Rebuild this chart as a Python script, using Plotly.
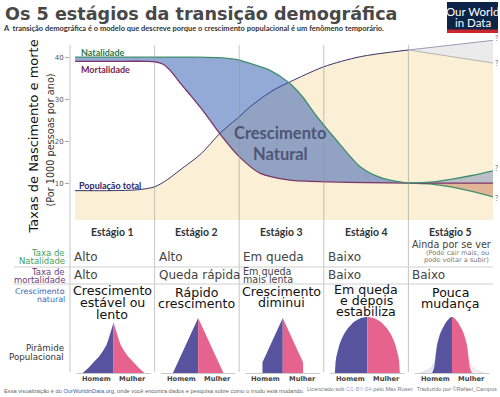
import plotly.graph_objects as go

W, H = 500, 397

# ---------------- data ----------------
stages = ["Estágio 1", "Estágio 2", "Estágio 3", "Estágio 4", "Estágio 5"]

birth_x = [0.06, 0.5, 1.0, 1.5, 1.8, 2.0, 2.13, 2.36, 2.6, 2.75, 2.92, 3.15, 3.43, 3.7, 4.0]
birth = [40, 40, 40, 40, 39.8, 39.3, 38.5, 36.9, 33.7, 30.5, 25.8, 20.2, 13.9, 11.1, 10.0]

death_x = [0.06, 0.5, 0.9, 1.0, 1.1, 1.18, 1.34, 1.42, 1.6, 1.77, 2.0, 2.25, 2.6, 3.07, 3.5, 4.0]
death = [39, 39, 39, 38.9, 38.3, 36.9, 32.9, 31.0, 26.5, 21.8, 16.3, 12.3, 10.7, 10.3, 10.1, 10.0]

pop_x = [0.06, 0.5, 0.8, 1.0, 1.15, 1.3, 1.55, 1.77, 2.0, 2.13, 2.4, 2.6, 3.0, 3.43, 4.0]
pop = [8.2, 8.2, 8.4, 9.1, 10.8, 13.1, 17.0, 21.8, 25.8, 28.2, 32.1, 34.1, 37.7, 40.1, 41.7]

s5_x = [4.0, 4.25, 4.5, 4.75, 5.0]
s5_birth_high = [10.0, 10.2, 10.9, 11.8, 12.9]
s5_birth_low = [10.0, 9.8, 9.1, 8.0, 6.7]
s5_death = [10.0, 10.0, 10.0, 10.0, 10.0]
s5_pop_x = [4.0, 5.0]
s5_pop_high = [41.7, 44.0]
s5_pop_low = [41.7, 38.6]

y_ticks = [10, 20, 30, 40]

birth_text = ["Alto", "Alto", "Em queda", "Baixo", "Ainda por se ver"]
birth_note = ["(Pode cair mais, ou", "pode voltar a subir)"]
death_text = [["Alto"], ["Queda rápida"], ["Em queda", "mais lenta"], ["Baixo"], ["Baixo"]]
growth_text = [["Crescimento", "estável ou", "lento"],
               ["Rápido", "crescimento"],
               ["Crescimento", "diminui"],
               ["Em queda", "e depois", "estabiliza"],
               ["Pouca", "mudança"]]

# population pyramids: half-width (relative share) at each age level
pyr_age = [0, 5, 10, 20, 30, 40, 50, 60, 70, 80, 85, 90, 95, 98, 100]
pyr_s1 = [31.5, 28, 25, 20, 14.5, 10.5, 7.2, 5.2, 3.3, 1.4, 0.4, 0, 0, 0, 0]
pyr_s2 = [25.5, 24.2, 22.9, 19.9, 17.6, 14.9, 12.3, 9.6, 7.0, 4.3, 3.0, 1.7, 0.4, 0, 0]
pyr_s3 = [20.3, 20.3, 20.3, 20.3, 17.6, 15.0, 12.3, 9.7, 7.0, 4.35, 3.0, 1.7, 0.4, 0, 0]
pyr_s4 = [32.5, 32.4, 32.3, 31.8, 31.0, 29.8, 28.1, 26.0, 23.2, 19.5, 17.1, 14.2, 10.1, 6.4, 0]
pyr_s5 = [20, 18.5, 17.8, 17, 16.4, 15.8, 15, 13.5, 11.8, 9.3, 7.8, 6, 3.8, 2.3, 0]
pyr_s5_ghost = [33, 25, 20.5, 17.5, 16.6, 15.8, 15, 13.5, 11.8, 9.3, 7.8, 6, 3.8, 2.3, 0]
pyramids = [pyr_s1, pyr_s2, pyr_s3, pyr_s4, pyr_s5]

# ---------------- styling ----------------
BEIGE = "#fbefd5"
GREEN = "#3f8f6e"
PURPLE = "#7d3468"
NAVY = "#34346e"
MALE = "#57539f"
FEMALE = "#e5638d"
X0, X1 = 70 / W, 493 / W       # plot x-domain (paper)
PYR_SCALE = 1 / 84.6           # share -> stage units


def px(x):
    return x / W


def py(y):
    return 1 - y / H


def sx(s):
    return X0 + s / 5 * (X1 - X0)


fig = go.Figure()

# beige area under total population
fig.add_trace(go.Scatter(x=pop_x + [s5_pop_x[-1]], y=pop + [s5_pop_low[-1]], mode="lines",
                         line=dict(width=0, shape="spline", smoothing=0.8),
                         fill="tozeroy", fillcolor=BEIGE, hoverinfo="skip"))
# stage 5 population uncertainty
fig.add_trace(go.Scatter(x=s5_pop_x, y=s5_pop_low, mode="lines",
                         line=dict(color="#b4b4b4", width=1), hoverinfo="skip"))
fig.add_trace(go.Scatter(x=s5_pop_x, y=s5_pop_high, mode="lines",
                         line=dict(color="#9c9cb4", width=1), fill="tonexty",
                         fillcolor="#ebebeb", hoverinfo="skip"))
# total population line
fig.add_trace(go.Scatter(x=pop_x, y=pop, mode="lines",
                         line=dict(color=NAVY, width=1, shape="spline", smoothing=0.8),
                         hoverinfo="skip"))
# death rate, birth rate + natural growth
fig.add_trace(go.Scatter(x=death_x, y=death, mode="lines",
                         line=dict(color=PURPLE, width=1.3, shape="spline", smoothing=0.8),
                         hoverinfo="skip"))
fig.add_trace(go.Scatter(x=birth_x, y=birth, mode="lines",
                         line=dict(color=GREEN, width=1.3, shape="spline", smoothing=0.8),
                         fill="tonexty", fillcolor="rgba(40,85,175,0.5)", hoverinfo="skip"))
# stage 5
fig.add_trace(go.Scatter(x=s5_x, y=s5_birth_low, mode="lines",
                         line=dict(color=GREEN, width=1.3, shape="spline", smoothing=0.8),
                         hoverinfo="skip"))
fig.add_trace(go.Scatter(x=s5_x, y=s5_death, mode="lines",
                         line=dict(color=PURPLE, width=1.3), fill="tonexty",
                         fillcolor="rgba(190,110,70,0.45)", hoverinfo="skip"))
fig.add_trace(go.Scatter(x=s5_x, y=s5_birth_high, mode="lines",
                         line=dict(color=GREEN, width=1.3, shape="spline", smoothing=0.8),
                         fill="tonexty", fillcolor="rgba(60,90,170,0.32)", hoverinfo="skip"))

# pyramids
for i, widths in enumerate(pyramids):
    c = i + 0.5 + 0.015
    if i == 4:
        gx = [c - w * PYR_SCALE for w in pyr_s5_ghost] + [c, c]
        fig.add_trace(go.Scatter(x=gx, y=pyr_age + [100, 0], xaxis="x2", yaxis="y2", mode="lines",
                                 line=dict(width=0.6, color="rgba(87,83,159,0.3)"), fill="toself",
                                 fillcolor="rgba(87,83,159,0.12)", hoverinfo="skip"))
        gx = [c + w * PYR_SCALE for w in pyr_s5_ghost] + [c, c]
        fig.add_trace(go.Scatter(x=gx, y=pyr_age + [100, 0], xaxis="x2", yaxis="y2", mode="lines",
                                 line=dict(width=0.6, color="rgba(229,99,141,0.3)"), fill="toself",
                                 fillcolor="rgba(229,99,141,0.12)", hoverinfo="skip"))
    mx = [c - w * PYR_SCALE for w in widths] + [c, c]
    fx = [c + w * PYR_SCALE for w in widths] + [c, c]
    fig.add_trace(go.Scatter(x=mx, y=pyr_age + [100, 0], xaxis="x2", yaxis="y2", mode="lines",
                             line=dict(width=0), fill="toself", fillcolor=MALE, hoverinfo="skip"))
    fig.add_trace(go.Scatter(x=fx, y=pyr_age + [100, 0], xaxis="x2", yaxis="y2", mode="lines",
                             line=dict(width=0), fill="toself", fillcolor=FEMALE, hoverinfo="skip"))

shapes = []
# stage separators
for b in range(5):
    shapes.append(dict(type="line", xref="paper", yref="paper", x0=sx(b), x1=sx(b),
                       y0=py(45), y1=py(372), line=dict(color="rgba(150,150,150,0.55)", width=1),
                       layer="above"))
# table row separators
for yy in (267, 284):
    shapes.append(dict(type="line", xref="paper", yref="paper", x0=px(14), x1=px(493),
                       y0=py(yy), y1=py(yy), line=dict(color="#cfcfcf", width=1)))
# pyramid baselines
for i in range(5):
    c = i + 0.5 + 0.015
    shapes.append(dict(type="line", xref="paper", yref="paper", x0=sx(c - 0.44), x1=sx(c + 0.44),
                       y0=py(373.5), y1=py(373.5), line=dict(color="#c8c8c8", width=1)))
# OWID logo
shapes.append(dict(type="rect", xref="paper", yref="paper", x0=px(447), x1=px(498),
                   y0=py(33), y1=py(2), fillcolor="#0b2447", line=dict(width=0)))
shapes.append(dict(type="rect", xref="paper", yref="paper", x0=px(447), x1=px(498),
                   y0=py(33), y1=py(29.5), fillcolor="#c8262d", line=dict(width=0)))

ann = []


def A(text, x, y, size, color, family="DejaVu Sans", xanchor="center", xref="paper",
      yanchor="middle", textangle=0, yshift=0, xshift=0):
    ann.append(dict(text=text, x=x, y=y, xref=xref, yref="paper", showarrow=False,
                    xanchor=xanchor, yanchor=yanchor, textangle=textangle,
                    yshift=yshift, xshift=xshift, borderpad=0,
                    font=dict(family=family, size=size, color=color)))


# titles
A("<b>Os 5 estágios da transição demográfica</b>", px(4), py(14), 17.6, "#484848",
  xanchor="left")
A("<b>A  transição demográfica é o modelo que descreve porque o crescimento populacional é um fenômeno temporário.</b>",
  px(2), py(29), 7.5, "#333333", family="Lato", xanchor="left")
A("Our World", px(472.5), py(11.5), 11.5, "white", family="Lato")
A("in Data", px(472.5), py(22.5), 11.5, "white", family="Lato")

# axis titles
A("Taxas de Nascimento e morte", px(33.5), py(137), 13, "#111111", textangle=-90)
A("(Por 1000 pessoas por ano)", px(50.5), py(140), 9.7, "#333333", textangle=-90)

# curve labels
A("<b>Natalidade</b>", px(80), py(52.3), 9, "#2b7a50", family="Lato", xanchor="left")
A("<b>Mortalidade</b>", px(80), py(69.3), 9, "#7a1f52", family="Lato", xanchor="left")
A("<b>População total</b>", px(78), py(185.7), 9, "#2a2a6a", family="Lato", xanchor="left")
A("<b>Crescimento</b>", px(280), py(132.5), 16.5, "#4d5674", family="Lato")
A("<b>Natural</b>", px(280), py(153.5), 16.5, "#4d5674", family="Lato")

# question marks at the open ends of stage 5
for val, ys in ((s5_pop_high[-1], 2), (s5_pop_low[-1], 0),
                (s5_birth_high[-1], 3), (s5_birth_low[-1], -1)):
    ann.append(dict(text="?", x=5.0, y=val, xref="x", yref="y", showarrow=False,
                    xanchor="left", yanchor="middle", xshift=0, yshift=ys,
                    font=dict(family="Lato", size=7, color="#777777")))

# table
for i, s in enumerate(stages):
    A("<b>" + s + "</b>", i + 0.5, py(232), 10.5, "#333333", family="Lato", xref="x")

A("Taxa de", px(66), py(252.7), 8.5, "#46a062", xanchor="right")
A("Natalidade", px(66), py(260.7), 8.5, "#46a062", xanchor="right")
A("Taxa de", px(66), py(272), 8.5, "#6b3d7a", xanchor="right")
A("mortalidade", px(66), py(280), 8.5, "#6b3d7a", xanchor="right")
A("Crescimento", px(66), py(291), 7.9, "#3c64b4", xanchor="right")
A("natural", px(66), py(299.3), 7.9, "#3c64b4", xanchor="right")
A("Pirâmide", px(65), py(348.3), 8.7, "#333333", xanchor="right")
A("Populacional", px(65), py(356.5), 8.7, "#333333", xanchor="right")

for i, t in enumerate(birth_text):
    if i < 4:
        A(t, i + 0.035, py(257.3), 12, "#444444", xref="x", xanchor="left")
    else:
        A(t, i + 0.035, py(244.5), 9.6, "#444444", xref="x", xanchor="left")
for k, t in enumerate(birth_note):
    A(t, px(490), py(252.7 + 7.3 * k), 6.6, "#777777", xanchor="right")

for i, lines in enumerate(death_text):
    if len(lines) == 1:
        A(lines[0], i + 0.035, py(275.3), 12, "#444444", xref="x", xanchor="left")
    else:
        for k, t in enumerate(lines):
            A(t, i + 0.035, py(271.5 + 8 * k), 9.6, "#444444", xref="x", xanchor="left")

growth_top = [290.5, 292.5, 291, 289.5, 292]
growth_step = [11.8, 11, 11, 11, 11.5]
for i, lines in enumerate(growth_text):
    for k, t in enumerate(lines):
        A(t, i + 0.5, py(growth_top[i] + growth_step[i] * k), 12.6, "#111111", xref="x")

for i in range(5):
    c = i + 0.5 + 0.015
    A("<b>Homem</b>", c - 0.2, py(379.3), 6.7, "#444444", xref="x")
    A("<b>Mulher</b>", c + 0.228, py(379.3), 6.7, "#444444", xref="x")

# footer
A("Essa visualização é do <span style='color:#3b5fa8'>OurWorldinData.org</span>, onde você encontra dados e pesquisa sobre como o mudo está mudando.",
  px(3), py(390.7), 5.7, "#666666", family="Liberation Sans", xanchor="left")
A("Licenciado sob <span style='color:#8fa8d8'>CC-BY-SA</span> pelo Max Roser.  Traduzido por ©Rafael_Campos",
  px(498), py(389.3), 5.6, "#777777", family="Liberation Sans", xanchor="right")

fig.update_layout(
    width=W, height=H,
    margin=dict(l=0, r=0, t=0, b=0),
    paper_bgcolor="white", plot_bgcolor="rgba(0,0,0,0)",
    showlegend=False,
    xaxis=dict(domain=[X0, X1], range=[0, 5], visible=False, fixedrange=True),
    yaxis=dict(domain=[py(220), py(39.5)], range=[1.2, 44.2], tickvals=y_ticks,
               ticks="outside", ticklen=4, tickcolor="#aaaaaa", showgrid=False,
               zeroline=False, showline=False,
               tickfont=dict(family="DejaVu Sans", size=7, color="#555555")),
    xaxis2=dict(domain=[X0, X1], range=[0, 5], visible=False, anchor="y2"),
    yaxis2=dict(domain=[py(373.5), py(373.5 - 56.7)], range=[0, 100], visible=False,
                anchor="x2"),
    shapes=shapes,
    annotations=ann,
)

fig.write_html("out.html", config={"displayModeBar": False},
               post_script="document.body.style.margin='0';document.body.style.overflow='hidden';")
